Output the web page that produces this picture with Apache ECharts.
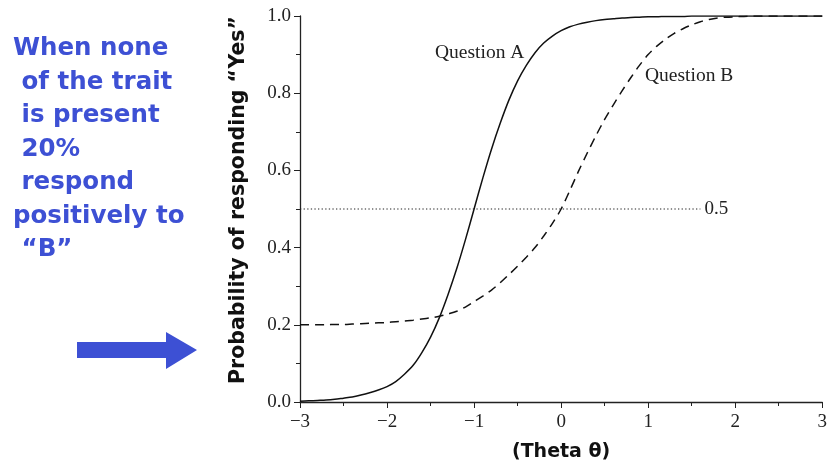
<!DOCTYPE html>
<html><head><meta charset="utf-8">
<script src="https://cdn.jsdelivr.net/npm/echarts@6/dist/echarts.min.js"></script>
<style>html,body{margin:0;padding:0;background:#fff}#c{width:830px;height:468px}</style>
</head><body><div id="c"></div>
<script>
// theta values (x)
const theta = [-3.0,-2.9,-2.8,-2.7,-2.6,-2.5,-2.4,-2.3,-2.2,-2.1,-2.0,-1.9,-1.8,-1.7,-1.6,-1.5,-1.4,-1.3,-1.2,-1.1,-1.0,-0.9,-0.8,-0.7,-0.6,-0.5,-0.4,-0.3,-0.2,-0.1,0.0,0.1,0.2,0.3,0.4,0.5,0.6,0.7,0.8,0.9,1.0,1.1,1.2,1.3,1.4,1.5,1.6,1.7,1.8,1.9,2.0,2.1,2.2,2.3,2.4,2.5,2.6,2.7,2.8,2.9,3.0];
// Question A probabilities
const questionA = [0.002,0.003,0.004,0.005,0.007,0.010,0.013,0.018,0.024,0.031,0.040,0.053,0.072,0.095,0.128,0.168,0.218,0.278,0.345,0.420,0.500,0.580,0.655,0.722,0.782,0.832,0.872,0.905,0.930,0.948,0.962,0.972,0.979,0.984,0.988,0.991,0.993,0.995,0.996,0.997,0.998,0.998,0.999,0.999,0.999,1.0,1.0,1.0,1.0,1.0,1.0,1.0,1.0,1.0,1.0,1.0,1.0,1.0,1.0,1.0,1.0];
// Question B probabilities
const questionB = [0.200,0.200,0.200,0.200,0.201,0.201,0.202,0.203,0.204,0.205,0.206,0.208,0.210,0.212,0.215,0.218,0.222,0.228,0.235,0.246,0.260,0.274,0.290,0.309,0.330,0.352,0.375,0.400,0.430,0.463,0.500,0.548,0.598,0.645,0.690,0.732,0.770,0.806,0.840,0.872,0.900,0.922,0.940,0.955,0.967,0.977,0.985,0.991,0.995,0.997,0.998,0.999,1.0,1.0,1.0,1.0,1.0,1.0,1.0,1.0,1.0];
// reference line
const refTheta = [-3.0, 1.6];
const refValue = 0.5;
const xTicks = [-3,-2,-1,0,1,2,3];
const yTicks = [0.0,0.2,0.4,0.6,0.8,1.0];
const noteLines = ['When none',' of the trait',' is present',' 20%',' respond','positively to',' \u201cB\u201d'];
const yTitle = 'Probability of responding \u201cYes\u201d';
const xTitle = '(Theta \u03b8)';

const serif = '"Liberation Serif","DejaVu Serif",serif';
const sans = '"DejaVu Sans","Noto Sans",sans-serif';
const blue = '#3d50d4';

const chart = echarts.init(document.getElementById('c'));
chart.setOption({
  backgroundColor:'#fff',
  animation:false,
  grid:{left:300,right:2,top:16,bottom:66,containLabel:false},
  xAxis:{type:'value',min:-3,max:3,interval:1,
    name:xTitle,nameLocation:'middle',nameGap:41,
    nameTextStyle:{fontFamily:sans,fontWeight:'bold',fontSize:19,color:'#111'},
    axisLine:{onZero:false,lineStyle:{color:'#222',width:1.3}},
    axisTick:{show:true,length:6,lineStyle:{color:'#222'}},
    minorTick:{show:true,splitNumber:2,length:4,lineStyle:{color:'#222'}},
    splitLine:{show:false},
    axisLabel:{margin:11,fontFamily:serif,fontSize:19,color:'#222',
      formatter:v=>xTicks.includes(v)?(v<0?'\u2212'+Math.abs(v):String(v)):''}
  },
  yAxis:{type:'value',min:0,max:1,interval:0.2,
    axisLine:{show:true,onZero:false,lineStyle:{color:'#222',width:1.3}},
    axisTick:{show:true,length:6,lineStyle:{color:'#222'}},
    minorTick:{show:true,splitNumber:2,length:4,lineStyle:{color:'#222'}},
    splitLine:{show:false},
    axisLabel:{margin:9,fontFamily:serif,fontSize:19,color:'#222',formatter:v=>v.toFixed(1)}
  },
  series:[
    {name:'Question A',type:'line',smooth:0.3,symbol:'none',
      data:theta.map((t,i)=>[t,questionA[i]]),
      lineStyle:{color:'#111',width:1.5}},
    {name:'Question B',type:'line',smooth:0.3,symbol:'none',
      data:theta.map((t,i)=>[t,questionB[i]]),
      lineStyle:{color:'#111',width:1.5,type:[9,6]}},
    {name:'ref',type:'line',symbol:'none',
      data:refTheta.map(t=>[t,refValue]),
      lineStyle:{color:'#222',width:1.2,type:[1.3,2.3]},
      endLabel:{show:true,formatter:'0.5',fontFamily:serif,fontSize:19,color:'#222',distance:4}}
  ],
  graphic:[
    {type:'text',x:239,y:200,rotation:Math.PI/2,
      style:{text:yTitle,font:'bold 20.5px '+sans,fill:'#111',align:'center',verticalAlign:'middle'}},
    {type:'text',left:435,top:43,style:{text:'Question A',font:'19.5px '+serif,fill:'#222'}},
    {type:'text',left:645,top:66,style:{text:'Question B',font:'19.5px '+serif,fill:'#222'}},
    {type:'text',left:13,top:32,style:{text:noteLines.join('\n'),font:'bold 24.5px Verdana,"DejaVu Sans",sans-serif',fill:blue,lineHeight:33.5}},
    {type:'polygon',shape:{points:[[77,342],[166,342],[166,332],[197,350],[166,369],[166,358],[77,358]]},style:{fill:blue}}
  ]
});
</script></body></html>
